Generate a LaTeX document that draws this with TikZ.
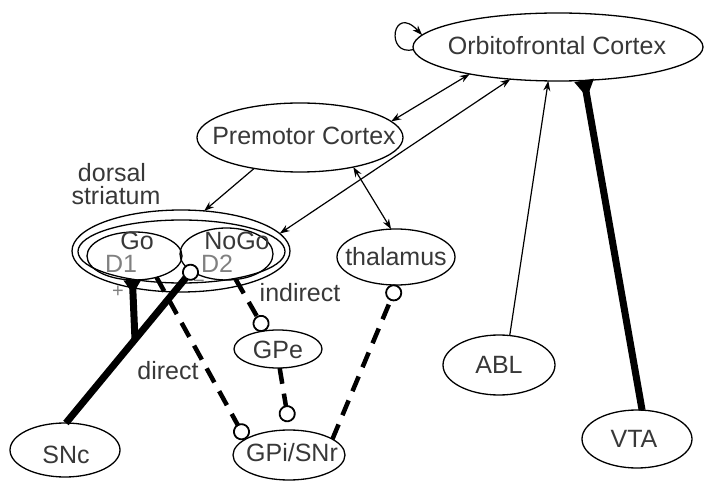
\documentclass[tikz,border=0pt]{standalone}
\usepackage{fontspec}
\setmainfont{Liberation Sans}
\usetikzlibrary{shapes.geometric,arrows.meta,calc}
\definecolor{txtc}{rgb}{0.22,0.22,0.22}
\definecolor{subc}{rgb}{0.5,0.5,0.5}
\begin{document}
\begin{tikzpicture}[x=1pt,y=-1pt,
  >={Stealth[length=10pt,width=7pt]},
  lbl/.style={font=\fontsize{25}{22}\selectfont, text=txtc, inner sep=0pt},
  sub/.style={lbl, text=subc},
  sgn/.style={font=\fontsize{20}{20}\selectfont, text=subc, inner sep=0pt},
  ell/.style={ellipse, draw, line width=1.3pt, inner sep=0pt, outer sep=0pt},
  arr/.style={line width=1.2pt, ->},
  darr/.style={line width=1.2pt, <->},
  inhib/.style={line width=4.5pt, dash pattern=on 16pt off 10pt,
    -{Circle[length=17pt,width=17pt,line width=1.8pt,fill=white]}},
  dopa/.style={line width=7pt},
  snci/.style={line width=7pt,
    -{Circle[length=17pt,width=17pt,line width=1.8pt,fill=white]}, shorten >=-7pt}
]
\useasboundingbox (0,0) rectangle (710,489);

% regions
\node[ell, minimum width=290pt, minimum height=68pt] (ofc) at (558,47) {};
\node[lbl] (ofct) at (557,46) {Orbitofrontal Cortex};
\node[ell, minimum width=206pt, minimum height=69pt] (pmc) at (300,137.5) {};
\node[lbl] (pmct) at (304,136) {Premotor Cortex};
\node[ell, minimum width=218pt, minimum height=82pt] (str) at (181,251) {};
\node[ell, minimum width=207pt, minimum height=63pt] (stri) at (181.5,251.5) {};
\node[ell, minimum width=95pt, minimum height=48pt] (go) at (134.5,256) {};
\node[ell, minimum width=93pt, minimum height=52pt] (nogo) at (226.5,254) {};
\node[lbl] (gol) at (137,241) {Go};
\node[sub] (d1l) at (121,264) {D1};
\node[lbl] (nogol) at (237,241) {NoGo};
\node[sub] (d2l) at (217,264) {D2};
\node[lbl] (dsl1) at (112,173) {dorsal};
\node[lbl] (dsl2) at (116,196) {striatum};
\node[ell, minimum width=118pt, minimum height=56pt] (thal) at (396,257) {};
\node[lbl] (thalt) at (396,257) {thalamus};
\node[ell, minimum width=88pt, minimum height=38pt] (gpe) at (278,349) {};
\node[lbl] (gpet) at (278,350) {GPe};
\node[ell, minimum width=112pt, minimum height=50pt] (gpi) at (289,455) {};
\node[lbl] (gpit) at (292,453) {GPi/SNr};
\node[ell, minimum width=110pt, minimum height=54pt] (snc) at (65,450) {};
\node[lbl] (snct) at (66,455) {SNc};
\node[ell, minimum width=112pt, minimum height=60pt] (abl) at (499,365) {};
\node[lbl] (ablt) at (499,365) {ABL};
\node[ell, minimum width=110pt, minimum height=58pt] (vta) at (637,439) {};
\node[lbl] (vtat) at (634,439) {VTA};
\node[sgn] (plus) at (118,292) {+};
\node[sgn] (minus) at (199,284) {−};
\node[lbl] (indl) at (300,293) {indirect};
\node[lbl] (dirl) at (168,371) {direct};

% cortical connections
\draw[darr] (ofc.197) -- (pmc.10);
\draw[darr] (ofc.214) -- (str.10);
\draw[arr] (pmc.214) -- (str.60);
\draw[darr] (pmc.331) -- (thal.100);
\draw[arr] (abl.70) -- (ofc.254);
\draw[arr] (ofc.181) .. controls (385,57) and (392,3) .. (ofc.175);

% VTA dopamine
\draw[dopa] (vta.80) -- (ofc.308);
\fill ($(ofc.308)!10pt!90:(vta.80)$) -- ($(ofc.308)!10pt!-90:(vta.80)$) -- ($(ofc.308)!17pt!(vta.80)$) -- cycle;

% SNc dopamine
\path (snc.88) -- (nogo.206) coordinate[pos=0.55] (j);
\draw[snci] (snc.88) -- (nogo.206);
\draw[dopa] (j) -- (go.265);
\fill ($(go.265)!9pt!90:(j)$) -- ($(go.265)!9pt!-90:(j)$) -- ($(go.265)!14pt!(j)$) -- cycle;

% basal ganglia pathways
\draw[inhib] (go.316) -- (gpi.160);
\draw[inhib] (nogo.290) -- (gpe.125);
\draw[inhib, shorten >=8pt] (gpe.275) -- (gpi.88);
\draw[inhib] (gpi.20) -- (thal.272);
\end{tikzpicture}
\end{document}
